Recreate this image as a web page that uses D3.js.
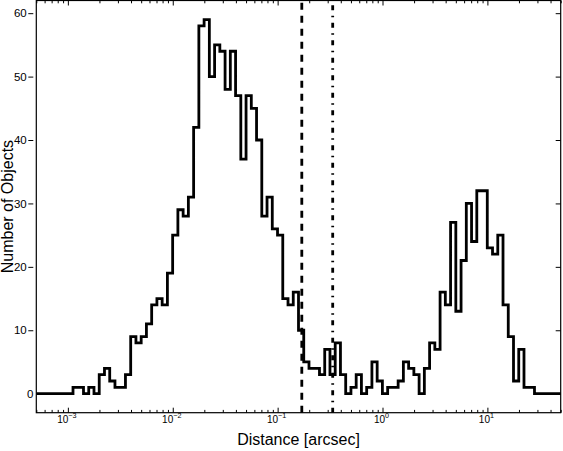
<!DOCTYPE html>
<html>
<head>
<meta charset="utf-8">
<script src="https://cdn.jsdelivr.net/npm/d3@7"></script>
<style>
body { margin: 0; background: #fff; }
text { font-family: "Liberation Sans", Arial, sans-serif; fill: #000; }
</style>
</head>
<body>
<div id="chart"></div>
<script>
// 100 log-spaced bins between binRange[0] and binRange[1]
const binRange = [5e-4, 50]
const counts = [
	0, 0, 0, 0, 0, 0, 0, 1, 1, 0,
	1, 0, 3, 4, 2, 1, 1, 3, 9, 8,
	9, 11, 14, 15, 14, 19, 25, 29, 28, 31,
	42, 58, 59, 50, 55, 54, 48, 54, 47, 37,
	47, 45, 40, 28, 31, 26, 25, 15, 14, 16,
	10, 5, 4, 4, 3, 7, 3, 8, 3, 0,
	1, 3, 0, 1, 5, 2, 0, 1, 1, 2,
	5, 4, 3, 0, 4, 8, 7, 16, 14, 27,
	13, 21, 30, 24, 32, 32, 23, 22, 25, 14,
	9, 2, 7, 1, 1, 0, 0, 0, 0, 0
]
// separation cuts (dashed, dash-dot)
const cuts = [0.17, 0.335]
const cutDash = ['7,6', '5,5.5,1.5,5.5']

const xMajor = [1e-3, 1e-2, 1e-1, 1, 10]
const xExp = ['\u22123', '\u22122', '\u22121', '0', '1']
const yTicks = [0, 10, 20, 30, 40, 50, 60]

const width = 563, height = 451
const margin = {top: 0.5, right: 2.3, bottom: 38.3, left: 36.3}

let x = d3.scaleLog()
	.domain([5e-4, 50])
	.range([margin.left, width - margin.right])

let y = d3.scaleLinear()
	.domain([-3, 62])
	.range([height - margin.bottom, margin.top])

let svg = d3.select('#chart')
	.append('svg')
	.attr('width', width)
	.attr('height', height)

// bin edges
let n = counts.length
let l0 = Math.log10(binRange[0]), l1 = Math.log10(binRange[1])
let edges = d3.range(n + 1).map(i => Math.pow(10, l0 + i * (l1 - l0) / n))

let pts = [[edges[0], 0]]
counts.forEach((c, i) => pts.push([edges[i], c]))
pts.push([edges[n], 0])

let line = d3.line()
	.x(d => x(d[0]))
	.y(d => y(d[1]))
	.curve(d3.curveStepAfter)

svg.append('path')
	.datum(pts)
	.attr('d', line)
	.attr('fill', 'none')
	.attr('stroke', '#000')
	.attr('stroke-width', 2.8)
	.attr('stroke-linejoin', 'miter')

svg.selectAll('.cut')
	.data(cuts)
	.enter()
	.append('line')
	.attr('class', 'cut')
	.attr('x1', d => x(d))
	.attr('x2', d => x(d))
	.attr('y1', y.range()[0])
	.attr('y2', y.range()[1])
	.attr('stroke', '#000')
	.attr('stroke-width', 2.8)
	.attr('stroke-dasharray', (d, i) => cutDash[i])

// minor ticks 2..9 per decade
let xMinor = x.ticks().filter(v => xMajor.indexOf(v) < 0)

function noDomain(g) {
	g.select('.domain').remove()
	g.selectAll('line').attr('stroke', '#000')
}

let yBottom = y.range()[0], yTop = y.range()[1]
let xLeft = x.range()[0], xRight = x.range()[1]

svg.append('g').attr('transform', `translate(0,${yBottom})`)
	.call(d3.axisBottom(x).tickValues(xMajor).tickSizeInner(-5).tickSizeOuter(0).tickFormat(''))
	.call(noDomain)
svg.append('g').attr('transform', `translate(0,${yBottom})`)
	.call(d3.axisBottom(x).tickValues(xMinor).tickSizeInner(-2.8).tickSizeOuter(0).tickFormat(''))
	.call(noDomain)
svg.append('g').attr('transform', `translate(0,${yTop})`)
	.call(d3.axisTop(x).tickValues(xMajor).tickSizeInner(-5).tickSizeOuter(0).tickFormat(''))
	.call(noDomain)
svg.append('g').attr('transform', `translate(0,${yTop})`)
	.call(d3.axisTop(x).tickValues(xMinor).tickSizeInner(-2.8).tickSizeOuter(0).tickFormat(''))
	.call(noDomain)
svg.append('g').attr('transform', `translate(${xRight},0)`)
	.call(d3.axisRight(y).tickValues(yTicks).tickSizeInner(-5).tickSizeOuter(0).tickFormat(''))
	.call(noDomain)

// left ticks sit just outside the frame
let yAxis = svg.append('g').attr('transform', `translate(${xLeft - 3},0)`)
	.call(d3.axisLeft(y).tickValues(yTicks).tickSizeInner(5).tickSizeOuter(0).tickPadding(1.6))
	.call(noDomain)
yAxis.selectAll('text')
	.attr('font-size', 11.5)
	.attr('font-family', '"Liberation Sans", Arial, sans-serif')
yAxis.selectAll('.tick').filter(d => d === 0)
	.call(t => t.select('line').remove())
	.call(t => t.select('text').attr('x', 0.2))

// x tick labels as 10^k
let xl = svg.append('g')
xl.selectAll('text')
	.data(xMajor)
	.enter()
	.append('text')
	.attr('x', d => x(d) - 1)
	.attr('y', yBottom + 10.2)
	.attr('text-anchor', 'middle')
	.attr('font-size', 10)
	.each(function(d, i) {
		let t = d3.select(this)
		t.append('tspan').text('10')
		t.append('tspan').attr('font-size', 7.2).attr('dy', -5).text(xExp[i])
	})

// frame
svg.append('rect')
	.attr('x', xLeft)
	.attr('y', yTop)
	.attr('width', xRight - xLeft)
	.attr('height', yBottom - yTop)
	.attr('fill', 'none')
	.attr('stroke', '#000')
	.attr('stroke-width', 1.2)

svg.append('text')
	.attr('x', (xLeft + xRight) / 2)
	.attr('y', 444.5)
	.attr('text-anchor', 'middle')
	.attr('font-size', 16)
	.text('Distance [arcsec]')

svg.append('text')
	.attr('transform', `translate(12.5,${(yTop + yBottom) / 2}) rotate(-90)`)
	.attr('text-anchor', 'middle')
	.attr('font-size', 16)
	.text('Number of Objects')
</script>
</body>
</html>
